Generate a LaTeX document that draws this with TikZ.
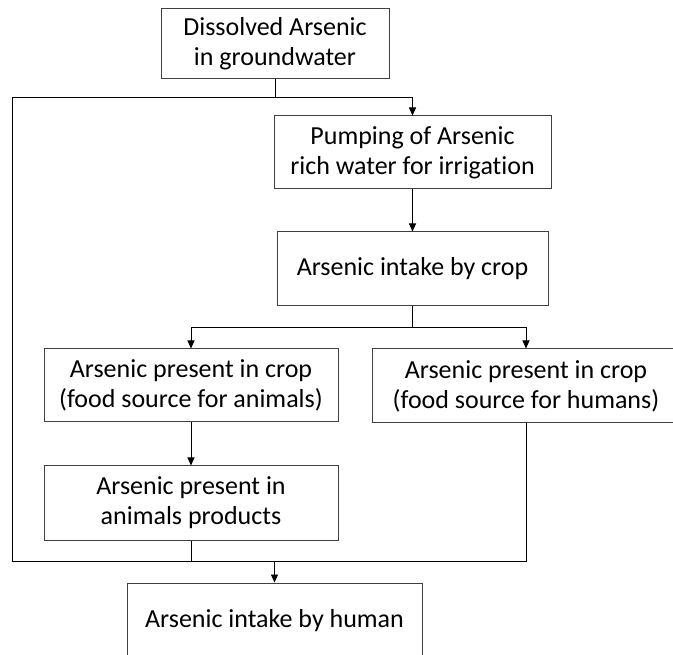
\documentclass[tikz,border=0pt]{standalone}
\usepackage{fontspec}
\setmainfont{Carlito}[Ligatures=NoCommon]
\usetikzlibrary{arrows.meta}

\tikzset{
  box/.style={draw=black!75, line width=1pt, align=center, inner sep=0pt,
    font=\fontsize{26}{30}\selectfont},
  link/.style={line width=0.9pt},
  arr/.style={link, -{Triangle[length=8pt,width=7pt]}}
}

\begin{document}
\begin{tikzpicture}[x=1pt,y=-1pt]
\useasboundingbox (0,0) rectangle (673,655);

% Boxes
\node[box, minimum width=228pt, minimum height=70pt] (src) at (275,44) {Dissolved Arsenic\\in groundwater};
\node[box, minimum width=277pt, minimum height=73pt] (pump) at (412.5,152.5) {Pumping of Arsenic\\rich water for irrigation};
\node[box, minimum width=271pt, minimum height=74pt] (cropin) at (412.5,269) {Arsenic intake by crop};
\node[box, minimum width=294pt, minimum height=73pt] (animal) at (191,385.5) {Arsenic present in crop\\(food source for animals)};
\node[box, minimum width=308pt, minimum height=74pt] (humanfood) at (526,386) {Arsenic present in crop\\(food source for humans)};
\node[box, minimum width=294pt, minimum height=74pt] (product) at (191,503) {Arsenic present in\\animals products};
\node[box, minimum width=295pt, minimum height=76pt] (intake) at (274.5,621) {Arsenic intake by human};

% Junction points
\coordinate (ltop) at (12,97);
\coordinate (lbot) at (12,561);
\coordinate (fork) at (0,327);

% Connectors
\draw[link] (src.south) -- (src.south |- ltop);
\draw[arr] (ltop) -| (pump.north);
\draw[link] (ltop) -- (lbot) -| (humanfood.south);
\draw[arr] (pump.south) -- (cropin.north);
\draw[link] (cropin.south) -- (cropin.south |- fork);
\draw[arr] (cropin.south |- fork) -| (animal.north);
\draw[arr] (cropin.south |- fork) -| (humanfood.north);
\draw[arr] (animal.south) -- (product.north);
\draw[link] (product.south) -- (product.south |- lbot);
\draw[arr] (intake.north |- lbot) -- (intake.north);
\end{tikzpicture}
\end{document}
